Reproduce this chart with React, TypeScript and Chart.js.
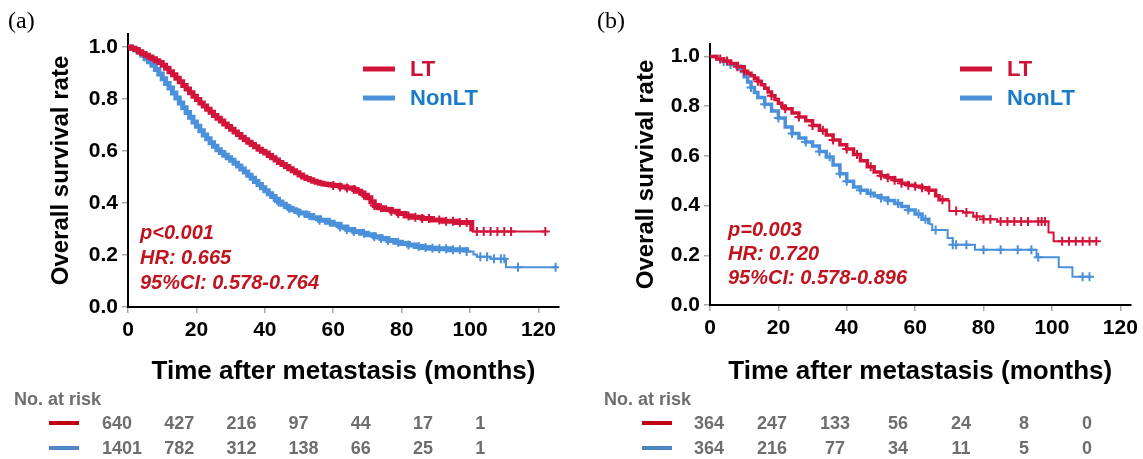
import React, { useEffect, useRef } from "react";
import { Chart, registerables } from "chart.js";

Chart.register(...registerables);

const SANS = "'Liberation Sans', Arial, Helvetica, sans-serif";
const SERIF = "'Liberation Serif', 'Times New Roman', serif";

// ---------- data ----------
const seriesNames = ["LT", "NonLT"];
const xTickStep = 20;
const riskTimes = [0, 20, 40, 60, 80, 100, 120];

// Panel (a)
const aLtTime = [0, 1, 2, 3, 4, 5, 6, 7, 8, 9, 10, 11, 12, 13, 14, 15, 16, 17, 18, 19, 20, 21, 22, 23, 24, 25, 26, 27, 28, 29, 30, 31, 32, 33, 34, 35, 36, 37, 38, 39, 40, 41, 42, 43, 44, 45, 46, 47, 48, 49, 50, 51, 52, 53, 54, 55, 56, 57, 58, 59, 60, 62, 64, 66, 67, 68, 69, 70, 71, 72, 73, 75, 77, 79, 81, 83, 86, 89, 92, 96, 100.5, 122];
const aLtSurv = [1.0, 0.995, 0.99, 0.982, 0.975, 0.968, 0.962, 0.955, 0.947, 0.94, 0.93, 0.918, 0.905, 0.893, 0.88, 0.866, 0.852, 0.838, 0.824, 0.811, 0.798, 0.785, 0.773, 0.761, 0.749, 0.737, 0.726, 0.715, 0.704, 0.694, 0.684, 0.673, 0.663, 0.653, 0.643, 0.634, 0.625, 0.616, 0.607, 0.599, 0.592, 0.583, 0.574, 0.565, 0.556, 0.548, 0.54, 0.532, 0.524, 0.516, 0.508, 0.5, 0.494, 0.489, 0.484, 0.48, 0.476, 0.473, 0.471, 0.469, 0.467, 0.462, 0.458, 0.452, 0.445, 0.438, 0.43, 0.42, 0.405, 0.39, 0.382, 0.375, 0.368, 0.36, 0.35, 0.345, 0.34, 0.335, 0.33, 0.325, 0.29, 0.29];
const aLtCensor = [60, 62, 64, 66, 69, 72, 74, 77, 79, 82, 84, 86, 88, 91, 93, 95, 97, 99, 102, 104, 106, 108, 110, 112, 122];

const aNonTime = [0, 1, 2, 3, 4, 5, 6, 7, 8, 9, 10, 11, 12, 13, 14, 15, 16, 17, 18, 19, 20, 21, 22, 23, 24, 25, 26, 27, 28, 29, 30, 31, 32, 33, 34, 35, 36, 37, 38, 39, 40, 41, 42, 43, 44, 45, 46, 47, 48, 49, 50, 52, 54, 56, 58, 60, 62, 64, 66, 68, 70, 72, 74, 76, 78, 80, 82, 84, 86, 88, 90, 94, 99, 101, 102, 106, 110.3, 110.5, 125];
const aNonSurv = [1.0, 0.995, 0.988, 0.98, 0.968, 0.955, 0.943, 0.93, 0.913, 0.896, 0.878, 0.86, 0.842, 0.823, 0.804, 0.785, 0.766, 0.748, 0.73, 0.712, 0.695, 0.678, 0.662, 0.647, 0.632, 0.618, 0.605, 0.594, 0.584, 0.574, 0.564, 0.553, 0.542, 0.531, 0.519, 0.507, 0.495, 0.483, 0.471, 0.459, 0.447, 0.436, 0.425, 0.414, 0.404, 0.395, 0.387, 0.38, 0.374, 0.368, 0.362, 0.352, 0.343, 0.334, 0.326, 0.318, 0.308, 0.298, 0.29, 0.284, 0.278, 0.27, 0.263, 0.256, 0.249, 0.244, 0.238, 0.233, 0.229, 0.226, 0.224, 0.22, 0.213, 0.202, 0.193, 0.186, 0.181, 0.153, 0.153];
const aNonCensor = [44, 47, 50, 53, 56, 59, 62, 64, 66, 69, 72, 74, 76, 79, 82, 85, 87, 89, 91, 93, 95, 97, 99, 103, 105, 107, 109, 110, 114, 125];

const aRiskLT = [640, 427, 216, 97, 44, 17, 1];
const aRiskNon = [1401, 782, 312, 138, 66, 25, 1];
const aStats = ["p<0.001", "HR: 0.665", "95%CI: 0.578-0.764"];

// Panel (b)
const bLtTime = [0, 2, 4, 6, 8, 10, 11, 12, 13, 14, 15, 16, 17, 18, 19, 20, 21, 22, 24, 26, 28, 30, 32, 34, 36, 38, 40, 42, 44, 46, 48, 50, 52, 54, 56, 58, 60, 62, 64, 66, 67, 69.5, 70, 74, 77, 80, 84, 98.5, 99, 100.5, 113];
const bLtSurv = [1.0, 0.99, 0.982, 0.972, 0.958, 0.94, 0.932, 0.922, 0.912, 0.9, 0.886, 0.872, 0.857, 0.842, 0.827, 0.812, 0.8, 0.79, 0.772, 0.756, 0.741, 0.722, 0.703, 0.684, 0.664, 0.645, 0.628, 0.605, 0.58, 0.556, 0.535, 0.52, 0.512, 0.502, 0.49, 0.482, 0.478, 0.472, 0.462, 0.44, 0.423, 0.418, 0.378, 0.372, 0.356, 0.345, 0.336, 0.336, 0.292, 0.256, 0.256];
const bLtCensor = [3, 5, 8, 10, 14, 18, 22, 26, 30, 33, 36, 40, 43, 47, 50, 52, 54, 56, 58, 60, 62, 64, 68, 72, 75, 78, 80, 82, 85, 87, 89, 91, 93, 96, 97, 98, 103, 105, 107, 109, 111, 113];

const bNonTime = [0, 2, 4, 6, 8, 10, 11, 12, 13, 14, 16, 18, 20, 22, 24, 26, 28, 30, 32, 34, 36, 38, 40, 42, 44, 46, 48, 50, 52, 54, 56, 58, 60, 62, 64, 65, 69, 69.5, 71, 77.5, 95.5, 102, 106, 111.5];
const bNonSurv = [1.0, 0.99, 0.98, 0.968, 0.95, 0.918, 0.897, 0.875, 0.855, 0.835, 0.808, 0.78, 0.752, 0.716, 0.69, 0.672, 0.656, 0.64, 0.618, 0.595, 0.563, 0.528, 0.498, 0.475, 0.462, 0.45, 0.44, 0.43, 0.42, 0.408, 0.396, 0.382, 0.366, 0.345, 0.325, 0.302, 0.302, 0.27, 0.242, 0.222, 0.192, 0.152, 0.114, 0.114];
const bNonCensor = [4, 6, 9, 12, 16, 20, 24, 28, 32, 35, 38, 40, 44, 47, 50, 52, 55, 58, 61, 63, 66, 71, 72, 75, 80, 85, 90, 94, 96, 109, 111];

const bRiskLT = [364, 247, 133, 56, 24, 8, 0];
const bRiskNon = [364, 216, 77, 34, 11, 5, 0];
const bStats = ["p=0.003", "HR: 0.720", "95%CI: 0.578-0.896"];

// ---------- styles ----------
const RED = "#D3143A";
const BLUE = "#4A90DA";
const RED_TEXT = "#CC1236";
const BLUE_TEXT = "#1B7BC8";
const STAT_RED = "#C0141E";
const RISK_GRAY = "#6E6E6E";
const RISK_RED = "#C00010";
const RISK_BLUE = "#4F86C6";

function stepValue(times: number[], surv: number[], t: number) {
  let v = surv[0];
  for (let i = 0; i < times.length; i++) if (times[i] <= t) v = surv[i];
  return v;
}

type PanelCfg = {
  label: string;
  width: number;
  xMax: number;
  padding: { left: number; top: number; right: number; bottom: number };
  yWidth: number;
  xHeight: number;
  yTitlePad: number;
  lt: { t: number[]; s: number[]; c: number[] };
  non: { t: number[]; s: number[]; c: number[] };
  ltThickUntil: number;
  nonThickUntil: number;
  thick: number;
  stats: string[];
  statX: number;
  statY: number[];
  legendX: number;
  legendY: number[];
  riskLT: number[];
  riskNon: number[];
  riskTitleX: number;
  riskLineX: number;
  riskColX0: number;
  riskColStep: number;
  riskAlign: CanvasTextAlign;
  labelX: number;
};

const panelA: PanelCfg = {
  label: "(a)",
  width: 571,
  xMax: 126,
  padding: { left: 0, top: 34, right: 12, bottom: 72 },
  yWidth: 128,
  xHeight: 80,
  yTitlePad: 48,
  lt: { t: aLtTime, s: aLtSurv, c: aLtCensor },
  non: { t: aNonTime, s: aNonSurv, c: aNonCensor },
  ltThickUntil: 100,
  nonThickUntil: 95,
  thick: 5,
  stats: aStats,
  statX: 140,
  statY: [233, 258, 283],
  legendX: 363,
  legendY: [69, 98],
  riskLT: aRiskLT,
  riskNon: aRiskNon,
  riskTitleX: 14,
  riskLineX: 49,
  riskColX0: 102,
  riskColStep: 62.2,
  riskAlign: "left",
  labelX: 8,
};

const panelB: PanelCfg = {
  label: "(b)",
  width: 572,
  xMax: 123,
  padding: { left: 0, top: 44, right: 8, bottom: 72 },
  yWidth: 139,
  xHeight: 82,
  yTitlePad: 62,
  lt: { t: bLtTime, s: bLtSurv, c: bLtCensor },
  non: { t: bNonTime, s: bNonSurv, c: bNonCensor },
  ltThickUntil: 68,
  nonThickUntil: 64,
  thick: 3.5,
  stats: bStats,
  statX: 157,
  statY: [230, 254, 278],
  legendX: 389,
  legendY: [69, 98],
  riskLT: bRiskLT,
  riskNon: bRiskNon,
  riskTitleX: 33,
  riskLineX: 71,
  riskColX0: 138,
  riskColStep: 63,
  riskAlign: "center",
  labelX: 26,
};

function makeDecor(cfg: PanelCfg) {
  return {
    id: "decor" + cfg.label,
    afterDraw(chart: any) {
      const ctx = chart.ctx as CanvasRenderingContext2D;
      ctx.save();
      // panel label
      ctx.fillStyle = "#000";
      ctx.font = `24px ${SERIF}`;
      ctx.textAlign = "left";
      ctx.textBaseline = "middle";
      ctx.fillText(cfg.label, cfg.labelX, 22);

      // legend
      const legendColors = [RED, BLUE];
      const legendText = [RED_TEXT, BLUE_TEXT];
      seriesNames.forEach((name, i) => {
        const y = cfg.legendY[i];
        ctx.strokeStyle = legendColors[i];
        ctx.lineWidth = 5;
        ctx.lineCap = "butt";
        ctx.beginPath();
        ctx.moveTo(cfg.legendX, y);
        ctx.lineTo(cfg.legendX + 32, y);
        ctx.stroke();
        ctx.fillStyle = legendText[i];
        ctx.font = `bold 22px ${SANS}`;
        ctx.textAlign = "left";
        ctx.textBaseline = "middle";
        ctx.fillText(name, cfg.legendX + 47, y + 1);
      });

      // stats
      ctx.fillStyle = STAT_RED;
      ctx.font = `italic bold 20px ${SANS}`;
      ctx.textBaseline = "middle";
      cfg.stats.forEach((s, i) => ctx.fillText(s, cfg.statX, cfg.statY[i]));

      // risk table
      ctx.fillStyle = RISK_GRAY;
      ctx.font = `bold 18px ${SANS}`;
      ctx.textAlign = "left";
      ctx.fillText("No. at risk", cfg.riskTitleX, 400);
      const rows = [cfg.riskLT, cfg.riskNon];
      const rowColors = [RISK_RED, RISK_BLUE];
      const rowY = [423, 448];
      rows.forEach((row, r) => {
        ctx.strokeStyle = rowColors[r];
        ctx.lineWidth = 4;
        ctx.beginPath();
        ctx.moveTo(cfg.riskLineX, rowY[r]);
        ctx.lineTo(cfg.riskLineX + 30, rowY[r]);
        ctx.stroke();
        ctx.fillStyle = RISK_GRAY;
        ctx.textAlign = cfg.riskAlign;
        riskTimes.forEach((_, i) => {
          ctx.fillText(String(row[i]), cfg.riskColX0 + i * cfg.riskColStep, rowY[r] + 1);
        });
      });
      ctx.restore();
    },
  };
}

function buildConfig(cfg: PanelCfg): any {
  const curve = (d: { t: number[]; s: number[] }) => d.t.map((t, i) => ({ x: t, y: d.s[i] }));
  const censor = (d: { t: number[]; s: number[]; c: number[] }) =>
    d.c.map((t) => ({ x: t, y: stepValue(d.t, d.s, t) }));
  const thin = 2;
  return {
    type: "line",
    data: {
      datasets: [
        {
          label: seriesNames[1],
          data: curve(cfg.non),
          borderColor: BLUE,
          stepped: "before",
          pointRadius: 0,
          borderWidth: cfg.thick,
          segment: { borderWidth: (c: any) => (c.p0.parsed.x < cfg.nonThickUntil ? cfg.thick : thin) },
          order: 4,
        },
        {
          label: seriesNames[1] + " censored",
          data: censor(cfg.non),
          showLine: false,
          pointStyle: "cross",
          pointRadius: 4.5,
          pointBorderWidth: 2,
          pointBorderColor: BLUE,
          borderColor: BLUE,
          order: 3,
        },
        {
          label: seriesNames[0],
          data: curve(cfg.lt),
          borderColor: RED,
          stepped: "before",
          pointRadius: 0,
          borderWidth: cfg.thick,
          segment: { borderWidth: (c: any) => (c.p0.parsed.x < cfg.ltThickUntil ? cfg.thick : thin) },
          order: 2,
        },
        {
          label: seriesNames[0] + " censored",
          data: censor(cfg.lt),
          showLine: false,
          pointStyle: "cross",
          pointRadius: 4.5,
          pointBorderWidth: 2,
          pointBorderColor: RED,
          borderColor: RED,
          order: 1,
        },
      ],
    },
    options: {
      responsive: false,
      animation: false,
      devicePixelRatio: 1,
      layout: { padding: cfg.padding },
      plugins: { legend: { display: false }, tooltip: { enabled: false } },
      scales: {
        x: {
          type: "linear",
          min: 0,
          max: cfg.xMax,
          afterFit: (s: any) => {
            s.height = cfg.xHeight;
          },
          border: { display: true, color: "#000", width: 2 },
          grid: { drawOnChartArea: false, drawTicks: true, tickLength: 6, color: "#A8A8A8", lineWidth: 1.5 },
          ticks: {
            stepSize: xTickStep,
            includeBounds: false,
            autoSkip: false,
            maxRotation: 0,
            padding: 5,
            color: "#000",
            font: { family: SANS, size: 21, weight: "bold" },
            callback: (v: number) => String(v),
          },
          title: {
            display: true,
            text: "Time after metastasis (months)",
            color: "#000",
            font: { family: SANS, size: 26, weight: "bold" },
            padding: { top: 0, bottom: 0 },
          },
        },
        y: {
          type: "linear",
          min: 0,
          max: 1.05,
          afterFit: (s: any) => {
            s.width = cfg.yWidth;
          },
          border: { display: true, color: "#000", width: 2 },
          grid: { drawOnChartArea: false, drawTicks: true, tickLength: 6, color: "#A8A8A8", lineWidth: 1.5 },
          ticks: {
            stepSize: 0.2,
            includeBounds: false,
            padding: 4,
            color: "#000",
            font: { family: SANS, size: 21, weight: "bold" },
            callback: (v: number) => v.toFixed(1),
          },
          title: {
            display: true,
            text: "Overall survival rate",
            color: "#000",
            font: { family: SANS, size: 24, weight: "bold" },
            padding: { top: cfg.yTitlePad - 1, bottom: 0 },
          },
        },
      },
    },
    plugins: [makeDecor(cfg)],
  };
}

function Panel({ cfg, left }: { cfg: PanelCfg; left: number }) {
  const ref = useRef<HTMLCanvasElement | null>(null);
  useEffect(() => {
    if (!ref.current) return;
    const chart = new Chart(ref.current, buildConfig(cfg));
    return () => chart.destroy();
  }, [cfg]);
  return (
    <canvas
      ref={ref}
      width={cfg.width}
      height={459}
      style={{ position: "absolute", left, top: 0, width: cfg.width, height: 459 }}
    />
  );
}

export default function App() {
  return (
    <div
      style={{
        position: "absolute",
        left: 0,
        top: 0,
        width: 1143,
        height: 459,
        background: "#fff",
        overflow: "hidden",
      }}
    >
      <Panel cfg={panelA} left={0} />
      <Panel cfg={panelB} left={571} />
    </div>
  );
}
